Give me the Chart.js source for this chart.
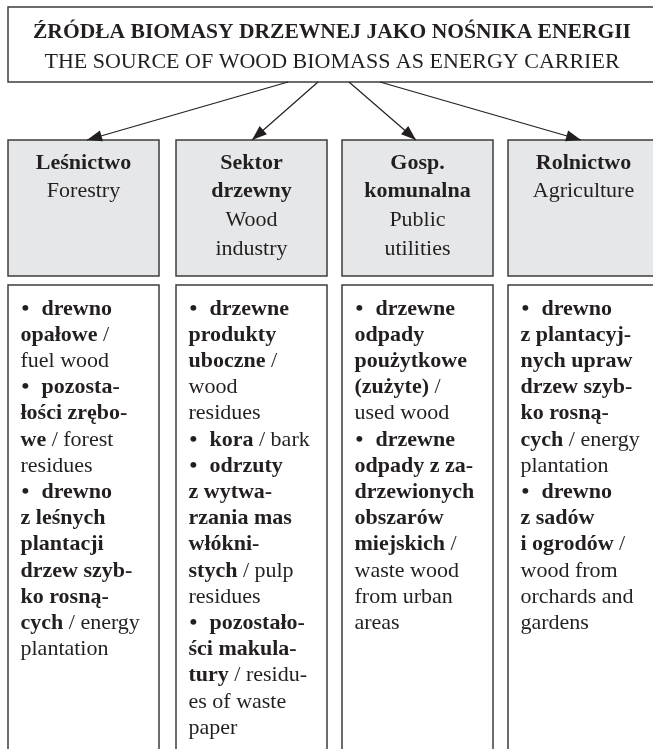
<!DOCTYPE html>
<html>
<head>
<meta charset="utf-8">
<script src="https://cdn.jsdelivr.net/npm/chart.js@4"></script>
<style>
  html, body { margin: 0; padding: 0; background: #fff; }
  canvas { display: block; }
</style>
</head>
<body>
<canvas id="biomassChart" width="653" height="749"></canvas>
<script>
// Wood biomass sources diagram - drawn on hidden linear scales (1 unit = 1 px)

// ---- data ----
const titleLines = ['ŹRÓDŁA BIOMASY DRZEWNEJ JAKO NOŚNIKA ENERGII', 'THE SOURCE OF WOOD BIOMASS AS ENERGY CARRIER'];

const sectorsPl = [['Leśnictwo'], ['Sektor', 'drzewny'], ['Gosp.', 'komunalna'], ['Rolnictwo']];
const sectorsEn = [['Forestry'], ['Wood', 'industry'], ['Public', 'utilities'], ['Agriculture']];

// '*' toggles bold, leading '• ' marks a bullet
const forestryItems = [
    '• *drewno*', '*opałowe* /', 'fuel wood',
    '• *pozosta-*', '*łości zrębo-*', '*we* / forest', 'residues',
    '• *drewno*', '*z leśnych*', '*plantacji*', '*drzew szyb-*', '*ko rosną-*', '*cych* / energy', 'plantation'
];
const woodIndustryItems = [
    '• *drzewne*', '*produkty*', '*uboczne* /', 'wood', 'residues',
    '• *kora* / bark',
    '• *odrzuty*', '*z wytwa-*', '*rzania mas*', '*włókni-*', '*stych* / pulp', 'residues',
    '• *pozostało-*', '*ści makula-*', '*tury* / residu-', 'es of waste', 'paper'
];
const utilitiesItems = [
    '• *drzewne*', '*odpady*', '*poużytkowe*', '*(zużyte)* /', 'used wood',
    '• *drzewne*', '*odpady z za-*', '*drzewionych*', '*obszarów*', '*miejskich* /', 'waste wood', 'from urban', 'areas'
];
const agricultureItems = [
    '• *drewno*', '*z plantacyj-*', '*nych upraw*', '*drzew szyb-*', '*ko rosną-*', '*cych* / energy', 'plantation',
    '• *drewno*', '*z sadów*', '*i ogrodów* /', 'wood from', 'orchards and', 'gardens'
];
const sectorItems = [forestryItems, woodIndustryItems, utilitiesItems, agricultureItems];

// ---- layout ----
const W = 653, H = 749;
const colLeft = [8, 176, 342, 508];
const colWidth = 151;
const topBox = { x0: 8, x1: 660, y0: 7, y1: 82 };
const headerBox = { y0: 140, y1: 276 };
const contentBox = { y0: 285, y1: 770 };
const arrowStartX = [288, 318, 349, 380];
const arrowTipX = [87, 252, 416, 581];

const ink = '#231f20';
const border = '#3d3d3d';
const fill = '#e6e7e8';
const fontFam = '"Liberation Serif", "Times New Roman", serif';

const arrowDatasets = arrowStartX.map((sx, i) => ({
    data: [{ x: sx, y: topBox.y1 }, { x: arrowTipX[i], y: headerBox.y0 }],
    showLine: true,
    borderColor: ink,
    borderWidth: 1.2,
    pointRadius: 0
}));

function rect(ctx, sx, sy, x0, y0, x1, y1, bg) {
    const px0 = sx.getPixelForValue(x0), px1 = sx.getPixelForValue(x1);
    const py0 = sy.getPixelForValue(y0), py1 = sy.getPixelForValue(y1);
    if (bg) {
        ctx.fillStyle = bg;
        ctx.fillRect(px0, py0, px1 - px0, py1 - py0);
    }
    ctx.strokeStyle = border;
    ctx.lineWidth = 1.5;
    ctx.strokeRect(px0, py0, px1 - px0, py1 - py0);
}

// draw a line with *bold* segments starting at x
function richLine(ctx, text, x, y) {
    const parts = text.split('*');
    let cx = x;
    parts.forEach((p, idx) => {
        if (!p) return;
        ctx.font = (idx % 2 === 1 ? 'bold ' : '') + '22px ' + fontFam;
        ctx.fillText(p, cx, y);
        cx += ctx.measureText(p).width;
    });
}

const diagramPlugin = {
    id: 'diagram',
    beforeDatasetsDraw(chart) {
        const ctx = chart.ctx;
        const sx = chart.scales.x, sy = chart.scales.y;
        ctx.save();

        // title box
        rect(ctx, sx, sy, topBox.x0, topBox.y0, topBox.x1, topBox.y1);
        ctx.fillStyle = ink;
        ctx.textAlign = 'center';
        ctx.textBaseline = 'alphabetic';
        const cx = sx.getPixelForValue(332);
        const titleFit = [598, 586];
        titleLines.forEach((t, i) => {
            ctx.font = (i === 0 ? 'bold ' : '') + '22px ' + fontFam;
            const w = ctx.measureText(t).width;
            const k = Math.min(1, titleFit[i] / w);
            ctx.save();
            ctx.translate(cx, sy.getPixelForValue(i === 0 ? 38 : 68));
            ctx.scale(k, 1);
            ctx.fillText(t, 0, 0);
            ctx.restore();
        });

        colLeft.forEach((left, c) => {
            // header
            rect(ctx, sx, sy, left, headerBox.y0, left + colWidth, headerBox.y1, fill);
            const mid = sx.getPixelForValue(left + colWidth / 2);
            const lines = sectorsPl[c].map(s => ['bold ', s]).concat(sectorsEn[c].map(s => ['', s]));
            ctx.textAlign = 'center';
            ctx.fillStyle = ink;
            lines.forEach((l, i) => {
                ctx.font = l[0] + '22px ' + fontFam;
                ctx.fillText(l[1], mid, sy.getPixelForValue(168.5 + i * 28.7));
            });

            // content
            rect(ctx, sx, sy, left, contentBox.y0, left + colWidth, contentBox.y1);
            ctx.textAlign = 'left';
            sectorItems[c].forEach((line, i) => {
                const y = sy.getPixelForValue(314.5 + i * 26.2);
                const x = sx.getPixelForValue(left + 12.5);
                if (line.startsWith('• ')) {
                    ctx.font = 'bold 22px ' + fontFam;
                    ctx.fillText('•', x + 1, y);
                    richLine(ctx, line.slice(2), x + 21, y);
                } else {
                    richLine(ctx, line, x, y);
                }
            });
        });
        ctx.restore();
    },
    afterDatasetsDraw(chart) {
        // arrow heads
        const ctx = chart.ctx;
        ctx.save();
        ctx.fillStyle = ink;
        chart.data.datasets.forEach((ds, i) => {
            const pts = chart.getDatasetMeta(i).data;
            const a = pts[0], b = pts[1];
            const ang = Math.atan2(b.y - a.y, b.x - a.x);
            const len = 15, half = 5.5;
            ctx.beginPath();
            ctx.moveTo(b.x, b.y);
            ctx.lineTo(b.x - len * Math.cos(ang) + half * Math.sin(ang), b.y - len * Math.sin(ang) - half * Math.cos(ang));
            ctx.lineTo(b.x - len * Math.cos(ang) - half * Math.sin(ang), b.y - len * Math.sin(ang) + half * Math.cos(ang));
            ctx.closePath();
            ctx.fill();
        });
        ctx.restore();
    }
};

new Chart(document.getElementById('biomassChart'), {
    type: 'scatter',
    data: { datasets: arrowDatasets },
    options: {
        responsive: false,
        animation: false,
        layout: { padding: 0 },
        plugins: { legend: { display: false }, tooltip: { enabled: false } },
        scales: {
            x: { type: 'linear', min: 0, max: W, display: false },
            y: { type: 'linear', min: 0, max: H, reverse: true, display: false }
        }
    },
    plugins: [diagramPlugin]
});
</script>
</body>
</html>
